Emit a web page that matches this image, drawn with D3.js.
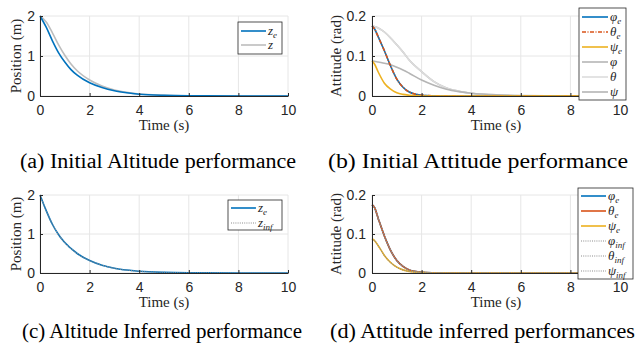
<!DOCTYPE html>
<html>
<head>
<meta charset="utf-8">
<script src="https://cdn.jsdelivr.net/npm/d3@7"></script>
<style>
  body { margin: 0; background: #fff; }
  svg { display: block; }
</style>
</head>
<body>
<svg width="638" height="350"></svg>
<script>
// time samples
var tAlt = [0, 0.25, 0.5, 0.75, 1, 1.25, 1.5, 2, 2.5, 3, 3.5, 4, 5, 6, 8, 10];
var zE   = [2, 1.72, 1.38, 1.08, 0.85, 0.66, 0.52, 0.33, 0.21, 0.13, 0.08, 0.045, 0.015, 0.005, 0, 0];
var zRef = [2, 1.85, 1.58, 1.28, 1.02, 0.8, 0.63, 0.4, 0.25, 0.15, 0.09, 0.05, 0.02, 0.008, 0.002, 0];

var tInf  = [0, 0.25, 0.5, 0.75, 1, 1.5, 2, 2.5, 3, 4, 5, 6, 8, 10];
var zE2   = [2, 1.6, 1.25, 0.98, 0.78, 0.5, 0.32, 0.2, 0.12, 0.045, 0.015, 0.005, 0, 0];
var zInf  = [2, 1.6, 1.25, 0.98, 0.78, 0.5, 0.32, 0.2, 0.12, 0.045, 0.015, 0.005, 0, 0];

var tAtt   = [0, 0.1, 0.25, 0.5, 0.75, 1, 1.25, 1.5, 2, 2.5, 3, 3.5, 4, 5, 6, 8, 10];
var phiE   = [0.175, 0.168, 0.148, 0.113, 0.075, 0.042, 0.022, 0.01, 0.002, 0.0005, 0, 0, 0, 0, 0, 0, 0];
var thetaE = [0.175, 0.168, 0.148, 0.113, 0.075, 0.042, 0.022, 0.01, 0.002, 0.0005, 0, 0, 0, 0, 0, 0, 0];
var psiE   = [0.088, 0.08, 0.06, 0.032, 0.017, 0.008, 0.004, 0.002, 0, 0, 0, 0, 0, 0, 0, 0, 0];
var phi    = [0.175, 0.174, 0.17, 0.16, 0.145, 0.128, 0.11, 0.09, 0.061, 0.036, 0.02, 0.012, 0.007, 0.002, 0.0005, 0, 0];
var theta  = [0.175, 0.174, 0.17, 0.16, 0.145, 0.128, 0.11, 0.09, 0.061, 0.036, 0.02, 0.012, 0.007, 0.002, 0.0005, 0, 0];
var psi    = [0.088, 0.087, 0.085, 0.082, 0.078, 0.072, 0.065, 0.057, 0.04, 0.027, 0.017, 0.011, 0.007, 0.003, 0.001, 0, 0];

var phiE2    = [0.175, 0.168, 0.14, 0.095, 0.058, 0.032, 0.017, 0.008, 0.002, 0.0005, 0, 0, 0, 0, 0, 0, 0];
var thetaE2  = [0.175, 0.168, 0.14, 0.095, 0.058, 0.032, 0.017, 0.008, 0.002, 0.0005, 0, 0, 0, 0, 0, 0, 0];
var psiE2    = [0.088, 0.083, 0.07, 0.045, 0.027, 0.015, 0.008, 0.004, 0.001, 0, 0, 0, 0, 0, 0, 0, 0];
var phiInf   = [0.175, 0.168, 0.14, 0.095, 0.058, 0.032, 0.017, 0.008, 0.002, 0.0005, 0, 0, 0, 0, 0, 0, 0];
var thetaInf = [0.175, 0.168, 0.14, 0.095, 0.058, 0.032, 0.017, 0.008, 0.002, 0.0005, 0, 0, 0, 0, 0, 0, 0];
var psiInf   = [0.088, 0.083, 0.07, 0.045, 0.027, 0.015, 0.008, 0.004, 0.001, 0, 0, 0, 0, 0, 0, 0, 0];

var xTicks = [0, 2, 4, 6, 8, 10];
var captions = ["(a) Initial Altitude performance", "(b) Initial Attitude performance",
                "(c) Altitude Inferred performance", "(d) Attitude inferred performances"];

var svg = d3.select("svg");

var blue = "#0072bd", orange = "#d95319", yellow = "#edb120";
var inf = "#8c8c8c";
var serif = "'Liberation Serif'";
var sans = "'Liberation Sans'";

function panel(opt) {
    var x = d3.scaleLinear().domain([0, 10]).range([opt.x0, opt.x1]);
    var y = d3.scaleLinear().domain([0, opt.ymax]).range([opt.y0, opt.y1]);
    var g = svg.append("g");

    // grid
    g.selectAll(".gx").data(xTicks).enter().append("line")
        .attr("x1", function(d) { return x(d); }).attr("x2", function(d) { return x(d); })
        .attr("y1", opt.y0).attr("y2", opt.y1)
        .attr("stroke", "#e6e6e6").attr("stroke-width", 1);
    g.selectAll(".gy").data(opt.yTicks).enter().append("line")
        .attr("x1", opt.x0).attr("x2", opt.x1)
        .attr("y1", function(d) { return y(d); }).attr("y2", function(d) { return y(d); })
        .attr("stroke", "#e6e6e6").attr("stroke-width", 1);

    var line = d3.line().curve(d3.curveMonotoneX);
    opt.series.forEach(function(s) {
        g.append("path")
            .attr("d", line.x(function(d, i) { return x(s.t[i]); }).y(function(d) { return y(d); })(s.v))
            .attr("fill", "none")
            .attr("stroke", s.color)
            .attr("stroke-width", s.w || 1.6)
            .attr("stroke-dasharray", s.dash || null);
    });

    var ax = g.append("g").attr("transform", "translate(0," + opt.y0 + ")")
        .call(d3.axisBottom(x).tickValues(xTicks).tickSizeInner(-3).tickSizeOuter(0).tickPadding(6));
    var ay = g.append("g").attr("transform", "translate(" + opt.x0 + ",0)")
        .call(d3.axisLeft(y).tickValues(opt.yTicks).tickSizeInner(-3).tickSizeOuter(0).tickPadding(opt.pad)
            .tickFormat(d3.format(opt.fmt)));
    [ax, ay].forEach(function(a) {
        a.attr("font-family", null).attr("font-size", null);
        a.select(".domain").attr("stroke", "#262626");
        a.selectAll(".tick line").attr("stroke", "#262626");
        a.selectAll(".tick text").attr("fill", "#262626")
            .style("font-family", sans).style("font-size", "14px");
    });
    ax.selectAll(".tick text").attr("dy", "0.9em");

    g.append("text")
        .style("font-family", serif).style("font-size", "15px").attr("fill", "#262626")
        .attr("x", (opt.x0 + opt.x1) / 2).attr("y", opt.y0 + 34)
        .attr("text-anchor", "middle").text("Time (s)");
    g.append("text")
        .style("font-family", serif).style("font-size", "15px").attr("fill", "#262626")
        .attr("transform", "translate(" + opt.labX + "," + (opt.y0 + opt.y1) / 2 + ") rotate(-90)")
        .attr("text-anchor", "middle").attr("dy", "0.35em").text(opt.ylabel);

    // legend
    var L = opt.legend;
    var lg = g.append("g");
    lg.append("rect").attr("x", L.x).attr("y", L.y).attr("width", L.w).attr("height", L.h)
        .attr("fill", "#fff").attr("stroke", "#262626").attr("stroke-width", 0.8);
    L.items.forEach(function(it, i) {
        var yy = L.y + L.top + i * L.step;
        lg.append("line").attr("x1", L.x + 3).attr("x2", L.x + L.len)
            .attr("y1", yy).attr("y2", yy)
            .attr("stroke", it.color).attr("stroke-width", it.w || 1.6)
            .attr("stroke-dasharray", it.dash || null);
        var tx = lg.append("text")
            .style("font-family", serif).style("font-size", "13px").style("font-style", "italic")
            .attr("fill", "#262626")
            .attr("x", L.x + L.len + 2).attr("y", yy).attr("dy", "0.3em");
        tx.append("tspan").text(it.sym);
        if (it.sub) {
            tx.append("tspan").style("font-size", "9px").attr("dy", "3").text(it.sub);
        }
    });

    svg.append("text")
        .style("font-family", serif).style("font-size", "20px").attr("fill", "#000")
        .attr("x", opt.capX).attr("y", opt.capY)
        .attr("textLength", opt.capW).attr("lengthAdjust", "spacingAndGlyphs")
        .text(opt.caption);
}

panel({
    x0: 40, x1: 288, y0: 96, y1: 16, ymax: 2, yTicks: [0, 1, 2], fmt: "d", pad: 5,
    ylabel: "Position (m)", labX: 16,
    series: [
        { t: tAlt, v: zRef, color: "#bdbdbd" },
        { t: tAlt, v: zE, color: blue }
    ],
    legend: { x: 238, y: 22, w: 44, h: 32, top: 9, step: 14, len: 28,
        items: [{ sym: "z", sub: "e", color: blue }, { sym: "z", color: "#bdbdbd" }] },
    caption: captions[0], capX: 20, capY: 168, capW: 276
});

panel({
    x0: 372, x1: 620, y0: 96, y1: 16, ymax: 0.2, yTicks: [0, 0.1, 0.2], fmt: ".1~f", pad: 6,
    ylabel: "Attitude (rad)", labX: 336,
    series: [
        { t: tAtt, v: phi, color: "#b5b5b5" },
        { t: tAtt, v: theta, color: "#dcdcdc" },
        { t: tAtt, v: psi, color: "#b5b5b5" },
        { t: tAtt, v: phiE, color: blue },
        { t: tAtt, v: thetaE, color: orange, dash: "4,1.5,1,1.5" },
        { t: tAtt, v: psiE, color: yellow }
    ],
    legend: { x: 579, y: 8, w: 47, h: 92, top: 9, step: 15, len: 29,
        items: [
            { sym: "\u03c6", sub: "e", color: blue },
            { sym: "\u03b8", sub: "e", color: orange, dash: "4,1.5,1,1.5" },
            { sym: "\u03c8", sub: "e", color: yellow },
            { sym: "\u03c6", color: "#b5b5b5" },
            { sym: "\u03b8", color: "#dcdcdc" },
            { sym: "\u03c8", color: "#b5b5b5" }
        ] },
    caption: captions[1], capX: 328, capY: 168, capW: 300
});

panel({
    x0: 40, x1: 288, y0: 273, y1: 195, ymax: 2, yTicks: [0, 1, 2], fmt: "d", pad: 5,
    ylabel: "Position (m)", labX: 16,
    series: [
        { t: tInf, v: zE2, color: blue },
        { t: tInf, v: zInf, color: inf, dash: "1,1.2", w: 1.2 }
    ],
    legend: { x: 228, y: 200, w: 54, h: 30, top: 8, step: 15, len: 28,
        items: [{ sym: "z", sub: "e", color: blue },
                { sym: "z", sub: "inf", color: inf, dash: "1,1.2", w: 1.2 }] },
    caption: captions[2], capX: 22, capY: 338, capW: 280
});

panel({
    x0: 372, x1: 620, y0: 273, y1: 195, ymax: 0.2, yTicks: [0, 0.1, 0.2], fmt: ".1~f", pad: 6,
    ylabel: "Attitude (rad)", labX: 336,
    series: [
        { t: tAtt, v: phiE2, color: blue },
        { t: tAtt, v: thetaE2, color: orange },
        { t: tAtt, v: psiE2, color: yellow },
        { t: tAtt, v: phiInf, color: inf, dash: "1,1.2", w: 1.2 },
        { t: tAtt, v: thetaInf, color: inf, dash: "1,1.2", w: 1.2 },
        { t: tAtt, v: psiInf, color: inf, dash: "1,1.2", w: 1.2 }
    ],
    legend: { x: 578, y: 188, w: 55, h: 91, top: 8, step: 15, len: 28,
        items: [
            { sym: "\u03c6", sub: "e", color: blue },
            { sym: "\u03b8", sub: "e", color: orange },
            { sym: "\u03c8", sub: "e", color: yellow },
            { sym: "\u03c6", sub: "inf", color: inf, dash: "1,1.2", w: 1.2 },
            { sym: "\u03b8", sub: "inf", color: inf, dash: "1,1.2", w: 1.2 },
            { sym: "\u03c8", sub: "inf", color: inf, dash: "1,1.2", w: 1.2 }
        ] },
    caption: captions[3], capX: 330, capY: 338, capW: 305
});
</script>
</body>
</html>
